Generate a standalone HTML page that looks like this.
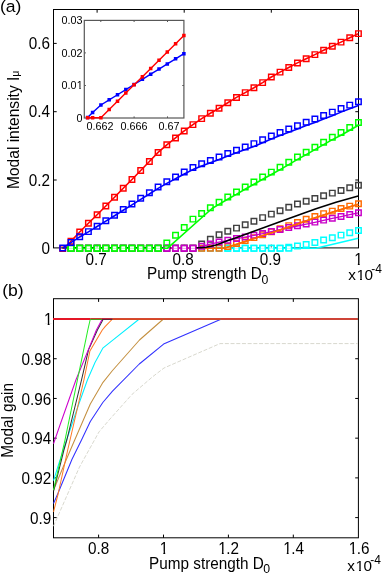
<!DOCTYPE html>
<html><head><meta charset="utf-8"><title>Modal intensity and modal gain</title>
<style>html,body{margin:0;padding:0;background:#fff;}body{width:382px;height:574px;overflow:hidden;}svg{display:block;will-change:transform;}text{font-family:"Liberation Sans", sans-serif;fill:#000;}</style></head><body>
<svg width="382" height="574" viewBox="0 0 382 574">
<rect x="0" y="0" width="382" height="574" fill="#fff"/>
<defs><filter id="soft" filterUnits="userSpaceOnUse" x="0" y="0" width="382" height="574"><feGaussianBlur stdDeviation="0.38"/></filter></defs>
<g filter="url(#soft)">
<g id="panel-a">
<rect x="53.5" y="9.5" width="305" height="238.4" fill="none" stroke="#000" stroke-width="1"/>
<line x1="97.1" y1="247.9" x2="97.1" y2="244.7" stroke="#000" stroke-width="1" />
<line x1="97.1" y1="9.5" x2="97.1" y2="12.7" stroke="#000" stroke-width="1" />
<line x1="184.2" y1="247.9" x2="184.2" y2="244.7" stroke="#000" stroke-width="1" />
<line x1="184.2" y1="9.5" x2="184.2" y2="12.7" stroke="#000" stroke-width="1" />
<line x1="271.3" y1="247.9" x2="271.3" y2="244.7" stroke="#000" stroke-width="1" />
<line x1="271.3" y1="9.5" x2="271.3" y2="12.7" stroke="#000" stroke-width="1" />
<line x1="53.5" y1="180" x2="56.7" y2="180" stroke="#000" stroke-width="1" />
<line x1="358.5" y1="180" x2="355.3" y2="180" stroke="#000" stroke-width="1" />
<line x1="53.5" y1="111.7" x2="56.7" y2="111.7" stroke="#000" stroke-width="1" />
<line x1="358.5" y1="111.7" x2="355.3" y2="111.7" stroke="#000" stroke-width="1" />
<line x1="53.5" y1="43.4" x2="56.7" y2="43.4" stroke="#000" stroke-width="1" />
<line x1="358.5" y1="43.4" x2="355.3" y2="43.4" stroke="#000" stroke-width="1" />
<g stroke-linecap="butt">
<polyline points="62.7,248.3 316,248.3 358.2,238.3" fill="none" stroke="#00ffff" stroke-width="1.6" stroke-linejoin="round" />
<path d="M68.24 245.55h5.5v5.5h-5.5zM76.95 245.55h5.5v5.5h-5.5zM85.66 245.55h5.5v5.5h-5.5zM94.37 245.55h5.5v5.5h-5.5zM103.08 245.55h5.5v5.5h-5.5zM111.79 245.55h5.5v5.5h-5.5zM120.5 245.55h5.5v5.5h-5.5zM129.21 245.55h5.5v5.5h-5.5zM137.93 245.55h5.5v5.5h-5.5zM146.64 245.55h5.5v5.5h-5.5zM155.35 245.55h5.5v5.5h-5.5zM164.06 245.55h5.5v5.5h-5.5zM172.77 245.55h5.5v5.5h-5.5zM181.48 245.55h5.5v5.5h-5.5zM190.19 245.55h5.5v5.5h-5.5zM198.9 245.55h5.5v5.5h-5.5zM207.61 245.55h5.5v5.5h-5.5zM216.32 245.55h5.5v5.5h-5.5zM225.03 245.55h5.5v5.5h-5.5zM233.75 245.55h5.5v5.5h-5.5zM242.46 245.55h5.5v5.5h-5.5zM251.17 245.55h5.5v5.5h-5.5zM259.88 245.55h5.5v5.5h-5.5zM268.59 245.55h5.5v5.5h-5.5zM277.3 245.55h5.5v5.5h-5.5zM286.01 244.45h5.5v5.5h-5.5zM294.72 243.15h5.5v5.5h-5.5zM303.43 241.65h5.5v5.5h-5.5zM312.14 239.75h5.5v5.5h-5.5zM320.86 237.25h5.5v5.5h-5.5zM329.57 234.95h5.5v5.5h-5.5zM338.28 232.35h5.5v5.5h-5.5zM346.99 230.05h5.5v5.5h-5.5zM355.7 227.65h5.5v5.5h-5.5z" fill="none" stroke="#00ffff" stroke-width="1.45"/>
<rect x="225.66" y="246.18" width="4.25" height="4.25" fill="#fff"/>
<line x1="225.66" y1="248.4" x2="229.91" y2="248.4" stroke="#b8ffff" stroke-width="1" />
<rect x="234.37" y="246.18" width="4.25" height="4.25" fill="#fff"/>
<line x1="234.37" y1="248.4" x2="238.62" y2="248.4" stroke="#b8ffff" stroke-width="1" />
<rect x="243.08" y="246.18" width="4.25" height="4.25" fill="#fff"/>
<line x1="243.08" y1="248.4" x2="247.33" y2="248.4" stroke="#b8ffff" stroke-width="1" />
<rect x="251.79" y="246.18" width="4.25" height="4.25" fill="#fff"/>
<line x1="251.79" y1="248.4" x2="256.04" y2="248.4" stroke="#b8ffff" stroke-width="1" />
<rect x="260.5" y="246.18" width="4.25" height="4.25" fill="#fff"/>
<line x1="260.5" y1="248.4" x2="264.75" y2="248.4" stroke="#b8ffff" stroke-width="1" />
<rect x="269.22" y="246.18" width="4.25" height="4.25" fill="#fff"/>
<line x1="269.22" y1="248.4" x2="273.47" y2="248.4" stroke="#b8ffff" stroke-width="1" />
<rect x="277.93" y="246.18" width="4.25" height="4.25" fill="#fff"/>
<line x1="277.93" y1="248.4" x2="282.18" y2="248.4" stroke="#b8ffff" stroke-width="1" />
<rect x="286.64" y="246.18" width="4.25" height="4.25" fill="#fff"/>
<line x1="286.64" y1="248.4" x2="290.89" y2="248.4" stroke="#b8ffff" stroke-width="1" />
<path d="M225.03 245.55h5.5v5.5h-5.5zM233.75 245.55h5.5v5.5h-5.5zM242.46 245.55h5.5v5.5h-5.5zM251.17 245.55h5.5v5.5h-5.5zM259.88 245.55h5.5v5.5h-5.5zM268.59 245.55h5.5v5.5h-5.5zM277.3 245.55h5.5v5.5h-5.5zM286.01 245.55h5.5v5.5h-5.5z" fill="none" stroke="#00ffff" stroke-width="1.45"/>
<polyline points="62.7,248.3 224,248.3 232,245.8 240,243.2 260,236.6 280,230 300,223 316,217.4 336,211.1 358.4,204.3" fill="none" stroke="#ff6a00" stroke-width="1.6" stroke-linejoin="round" />
<path d="M68.24 245.55h5.5v5.5h-5.5zM76.95 245.55h5.5v5.5h-5.5zM85.66 245.55h5.5v5.5h-5.5zM94.37 245.55h5.5v5.5h-5.5zM103.08 245.55h5.5v5.5h-5.5zM111.79 245.55h5.5v5.5h-5.5zM120.5 245.55h5.5v5.5h-5.5zM129.21 245.55h5.5v5.5h-5.5zM137.93 245.55h5.5v5.5h-5.5zM146.64 245.55h5.5v5.5h-5.5zM155.35 245.55h5.5v5.5h-5.5zM164.06 245.55h5.5v5.5h-5.5zM172.77 245.55h5.5v5.5h-5.5zM181.48 245.55h5.5v5.5h-5.5zM190.19 245.55h5.5v5.5h-5.5zM198.9 245.55h5.5v5.5h-5.5zM207.61 245.55h5.5v5.5h-5.5zM216.32 245.55h5.5v5.5h-5.5zM225.03 243.65h5.5v5.5h-5.5zM233.75 240.65h5.5v5.5h-5.5zM242.46 237.75h5.5v5.5h-5.5zM251.17 234.85h5.5v5.5h-5.5zM259.88 231.95h5.5v5.5h-5.5zM268.59 228.95h5.5v5.5h-5.5zM277.3 225.95h5.5v5.5h-5.5zM286.01 222.85h5.5v5.5h-5.5zM294.72 219.75h5.5v5.5h-5.5zM303.43 216.55h5.5v5.5h-5.5zM312.14 213.65h5.5v5.5h-5.5zM320.86 210.85h5.5v5.5h-5.5zM329.57 208.35h5.5v5.5h-5.5zM338.28 205.75h5.5v5.5h-5.5zM346.99 203.35h5.5v5.5h-5.5zM355.7 201.05h5.5v5.5h-5.5z" fill="none" stroke="#ff6a00" stroke-width="1.45"/>
<path d="M68.24 245.55h5.5v5.5h-5.5zM76.95 245.55h5.5v5.5h-5.5zM85.66 245.55h5.5v5.5h-5.5zM94.37 245.55h5.5v5.5h-5.5zM103.08 245.55h5.5v5.5h-5.5zM111.79 245.55h5.5v5.5h-5.5zM120.5 245.55h5.5v5.5h-5.5zM129.21 245.55h5.5v5.5h-5.5zM137.93 245.55h5.5v5.5h-5.5zM146.64 245.55h5.5v5.5h-5.5zM155.35 245.55h5.5v5.5h-5.5zM164.06 245.55h5.5v5.5h-5.5zM172.77 245.55h5.5v5.5h-5.5zM181.48 245.55h5.5v5.5h-5.5zM190.19 245.55h5.5v5.5h-5.5zM198.9 241.15h5.5v5.5h-5.5zM207.61 236.45h5.5v5.5h-5.5zM216.32 232.05h5.5v5.5h-5.5zM225.03 228.55h5.5v5.5h-5.5zM233.75 225.35h5.5v5.5h-5.5zM242.46 222.05h5.5v5.5h-5.5zM251.17 218.45h5.5v5.5h-5.5zM259.88 214.85h5.5v5.5h-5.5zM268.59 211.35h5.5v5.5h-5.5zM277.3 207.95h5.5v5.5h-5.5zM286.01 204.45h5.5v5.5h-5.5zM294.72 201.25h5.5v5.5h-5.5zM303.43 198.45h5.5v5.5h-5.5zM312.14 195.75h5.5v5.5h-5.5zM320.86 193.05h5.5v5.5h-5.5zM329.57 190.35h5.5v5.5h-5.5zM338.28 187.65h5.5v5.5h-5.5zM346.99 184.95h5.5v5.5h-5.5zM355.7 182.45h5.5v5.5h-5.5z" fill="none" stroke="#404040" stroke-width="1.45"/>
<polyline points="62.7,247.9 171,247.9" fill="none" stroke="#000000" stroke-width="1.6" stroke-linejoin="round" />
<polyline points="171,248.1 198.5,248.1 201.65,246.5 210.36,244.2 219.07,242.1 227.78,240.4 236.5,238.7 245.21,237.1 253.92,235.4 262.63,233.7 271.34,231.7 280.05,229.6 288.76,227.7 297.47,226 306.18,224.2 314.89,222.3 323.61,220.3 332.32,218.4 341.03,216.6 349.74,214.7 358.45,212.9" fill="none" stroke="#c800c8" stroke-width="1.3" stroke-linejoin="round" />
<path d="M68.24 245.55h5.5v5.5h-5.5zM76.95 245.55h5.5v5.5h-5.5zM85.66 245.55h5.5v5.5h-5.5zM94.37 245.55h5.5v5.5h-5.5zM103.08 245.55h5.5v5.5h-5.5zM111.79 245.55h5.5v5.5h-5.5zM120.5 245.55h5.5v5.5h-5.5zM129.21 245.55h5.5v5.5h-5.5zM137.93 245.55h5.5v5.5h-5.5zM146.64 245.55h5.5v5.5h-5.5zM155.35 245.55h5.5v5.5h-5.5zM164.06 245.55h5.5v5.5h-5.5zM172.77 245.55h5.5v5.5h-5.5zM181.48 245.55h5.5v5.5h-5.5zM190.19 245.55h5.5v5.5h-5.5zM198.9 243.55h5.5v5.5h-5.5zM207.61 241.25h5.5v5.5h-5.5zM216.32 239.15h5.5v5.5h-5.5zM225.03 237.45h5.5v5.5h-5.5zM233.75 235.75h5.5v5.5h-5.5zM242.46 234.15h5.5v5.5h-5.5zM251.17 232.45h5.5v5.5h-5.5zM259.88 230.75h5.5v5.5h-5.5zM268.59 228.75h5.5v5.5h-5.5zM277.3 226.65h5.5v5.5h-5.5zM286.01 224.75h5.5v5.5h-5.5zM294.72 223.05h5.5v5.5h-5.5zM303.43 221.25h5.5v5.5h-5.5zM312.14 219.35h5.5v5.5h-5.5zM320.86 217.35h5.5v5.5h-5.5zM329.57 215.45h5.5v5.5h-5.5zM338.28 213.65h5.5v5.5h-5.5zM346.99 211.75h5.5v5.5h-5.5zM355.7 209.95h5.5v5.5h-5.5z" fill="none" stroke="#c800c8" stroke-width="1.45"/>
<polyline points="224,248.3 232,245.8 240,243.2 260,236.6 280,230 300,223 316,217.4 336,211.1 358.4,204.3" fill="none" stroke="#ff6a00" stroke-width="1.6" stroke-linejoin="round" />
<polyline points="190,247.8 201,247.7 206,247.2 211,246.3 216,244.9 221.4,242.9 230,239.8 234,238.4 258,229.8 282,221 300,214.5 316,208.8 336,202.3 358.2,195.9" fill="none" stroke="#000000" stroke-width="1.6" stroke-linejoin="round" />
<rect x="164.68" y="246.18" width="4.25" height="4.25" fill="#fff"/>
<line x1="164.68" y1="248.4" x2="168.93" y2="248.4" stroke="#eaa8ea" stroke-width="1" />
<rect x="173.39" y="246.18" width="4.25" height="4.25" fill="#fff"/>
<line x1="173.39" y1="248.4" x2="177.64" y2="248.4" stroke="#eaa8ea" stroke-width="1" />
<rect x="182.11" y="246.18" width="4.25" height="4.25" fill="#fff"/>
<line x1="182.11" y1="248.4" x2="186.36" y2="248.4" stroke="#eaa8ea" stroke-width="1" />
<rect x="190.82" y="246.18" width="4.25" height="4.25" fill="#fff"/>
<line x1="190.82" y1="248.4" x2="195.07" y2="248.4" stroke="#eaa8ea" stroke-width="1" />
<path d="M164.06 245.55h5.5v5.5h-5.5zM172.77 245.55h5.5v5.5h-5.5zM181.48 245.55h5.5v5.5h-5.5zM190.19 245.55h5.5v5.5h-5.5z" fill="none" stroke="#c800c8" stroke-width="1.45"/>
<polyline points="62.7,248.3 167.3,248.3 212,208.5 218.9,204.4 227.6,199.2 236.3,194.4 245,189.3 253.92,184.3 262.63,179.3 271.34,174.5 280.05,169.6 288.76,164.6 297.47,159.4 306.18,154.6 314.89,149.6 323.61,144.6 332.32,139.6 341.03,135.2 349.74,130.3 358.45,125.3" fill="none" stroke="#00ff00" stroke-width="1.6" stroke-linejoin="round" />
<path d="M68.24 245.55h5.5v5.5h-5.5zM76.95 245.55h5.5v5.5h-5.5zM85.66 245.55h5.5v5.5h-5.5zM94.37 245.55h5.5v5.5h-5.5zM103.08 245.55h5.5v5.5h-5.5zM111.79 245.55h5.5v5.5h-5.5zM120.5 245.55h5.5v5.5h-5.5zM129.21 245.55h5.5v5.5h-5.5zM137.93 245.55h5.5v5.5h-5.5zM146.64 245.55h5.5v5.5h-5.5zM155.35 245.55h5.5v5.5h-5.5zM164.06 240.15h5.5v5.5h-5.5zM172.77 232.45h5.5v5.5h-5.5zM181.48 224.65h5.5v5.5h-5.5zM190.19 216.35h5.5v5.5h-5.5zM198.9 210.65h5.5v5.5h-5.5zM207.61 205.05h5.5v5.5h-5.5zM216.32 199.45h5.5v5.5h-5.5zM225.03 194.15h5.5v5.5h-5.5zM233.75 189.25h5.5v5.5h-5.5zM242.46 184.25h5.5v5.5h-5.5zM251.17 179.15h5.5v5.5h-5.5zM259.88 174.15h5.5v5.5h-5.5zM268.59 169.35h5.5v5.5h-5.5zM277.3 164.45h5.5v5.5h-5.5zM286.01 159.45h5.5v5.5h-5.5zM294.72 154.25h5.5v5.5h-5.5zM303.43 149.45h5.5v5.5h-5.5zM312.14 144.45h5.5v5.5h-5.5zM320.86 139.45h5.5v5.5h-5.5zM329.57 134.45h5.5v5.5h-5.5zM338.28 129.65h5.5v5.5h-5.5zM346.99 124.75h5.5v5.5h-5.5zM355.7 119.75h5.5v5.5h-5.5z" fill="none" stroke="#00ff00" stroke-width="1.45"/>
<rect x="68.86" y="246.18" width="4.25" height="4.25" fill="#fff"/>
<line x1="68.86" y1="248.4" x2="73.11" y2="248.4" stroke="#b8ffb8" stroke-width="1" />
<rect x="77.57" y="246.18" width="4.25" height="4.25" fill="#fff"/>
<line x1="77.57" y1="248.4" x2="81.82" y2="248.4" stroke="#b8ffb8" stroke-width="1" />
<rect x="86.28" y="246.18" width="4.25" height="4.25" fill="#fff"/>
<line x1="86.28" y1="248.4" x2="90.53" y2="248.4" stroke="#b8ffb8" stroke-width="1" />
<rect x="95" y="246.18" width="4.25" height="4.25" fill="#fff"/>
<line x1="95" y1="248.4" x2="99.25" y2="248.4" stroke="#b8ffb8" stroke-width="1" />
<rect x="103.71" y="246.18" width="4.25" height="4.25" fill="#fff"/>
<line x1="103.71" y1="248.4" x2="107.96" y2="248.4" stroke="#b8ffb8" stroke-width="1" />
<rect x="112.42" y="246.18" width="4.25" height="4.25" fill="#fff"/>
<line x1="112.42" y1="248.4" x2="116.67" y2="248.4" stroke="#b8ffb8" stroke-width="1" />
<rect x="121.13" y="246.18" width="4.25" height="4.25" fill="#fff"/>
<line x1="121.13" y1="248.4" x2="125.38" y2="248.4" stroke="#b8ffb8" stroke-width="1" />
<rect x="129.84" y="246.18" width="4.25" height="4.25" fill="#fff"/>
<line x1="129.84" y1="248.4" x2="134.09" y2="248.4" stroke="#b8ffb8" stroke-width="1" />
<rect x="138.55" y="246.18" width="4.25" height="4.25" fill="#fff"/>
<line x1="138.55" y1="248.4" x2="142.8" y2="248.4" stroke="#b8ffb8" stroke-width="1" />
<rect x="147.26" y="246.18" width="4.25" height="4.25" fill="#fff"/>
<line x1="147.26" y1="248.4" x2="151.51" y2="248.4" stroke="#b8ffb8" stroke-width="1" />
<rect x="155.97" y="246.18" width="4.25" height="4.25" fill="#fff"/>
<line x1="155.97" y1="248.4" x2="160.22" y2="248.4" stroke="#b8ffb8" stroke-width="1" />
<path d="M68.24 245.55h5.5v5.5h-5.5zM76.95 245.55h5.5v5.5h-5.5zM85.66 245.55h5.5v5.5h-5.5zM94.37 245.55h5.5v5.5h-5.5zM103.08 245.55h5.5v5.5h-5.5zM111.79 245.55h5.5v5.5h-5.5zM120.5 245.55h5.5v5.5h-5.5zM129.21 245.55h5.5v5.5h-5.5zM137.93 245.55h5.5v5.5h-5.5zM146.64 245.55h5.5v5.5h-5.5zM155.35 245.55h5.5v5.5h-5.5z" fill="none" stroke="#00ff00" stroke-width="1.45"/>
<polyline points="62.7,248.3 64.02,248.3 70.99,241.3 79.7,232 88.41,223.2 97.12,214.7 105.83,206 114.54,197.2 123.25,188.3 131.96,179.5 140.68,170.5 149.39,161.5 158.1,152.4 166.81,144.8 175.52,137.9 184.23,130.9 192.94,124.6 201.65,118.6 210.36,113.3 219.07,108.2 227.78,102.7 236.5,97.4 245.21,92.6 253.92,87.8 262.63,82.6 271.34,77 280.05,72.1 288.76,67.5 297.47,62.9 306.18,58.7 314.89,54.6 323.61,50.3 332.32,46.3 341.03,42.1 349.74,37.8 358.45,33.6" fill="none" stroke="#ff0000" stroke-width="1.6" stroke-linejoin="round" />
<path d="M59.95 245.85h5.5v5.5h-5.5zM68.24 238.55h5.5v5.5h-5.5zM76.95 229.25h5.5v5.5h-5.5zM85.66 220.45h5.5v5.5h-5.5zM94.37 211.95h5.5v5.5h-5.5zM103.08 203.25h5.5v5.5h-5.5zM111.79 194.45h5.5v5.5h-5.5zM120.5 185.55h5.5v5.5h-5.5zM129.21 176.75h5.5v5.5h-5.5zM137.93 167.75h5.5v5.5h-5.5zM146.64 158.75h5.5v5.5h-5.5zM155.35 149.65h5.5v5.5h-5.5zM164.06 142.05h5.5v5.5h-5.5zM172.77 135.15h5.5v5.5h-5.5zM181.48 128.15h5.5v5.5h-5.5zM190.19 121.85h5.5v5.5h-5.5zM198.9 115.85h5.5v5.5h-5.5zM207.61 110.55h5.5v5.5h-5.5zM216.32 105.45h5.5v5.5h-5.5zM225.03 99.95h5.5v5.5h-5.5zM233.75 94.65h5.5v5.5h-5.5zM242.46 89.85h5.5v5.5h-5.5zM251.17 85.05h5.5v5.5h-5.5zM259.88 79.85h5.5v5.5h-5.5zM268.59 74.25h5.5v5.5h-5.5zM277.3 69.35h5.5v5.5h-5.5zM286.01 64.75h5.5v5.5h-5.5zM294.72 60.15h5.5v5.5h-5.5zM303.43 55.95h5.5v5.5h-5.5zM312.14 51.85h5.5v5.5h-5.5zM320.86 47.55h5.5v5.5h-5.5zM329.57 43.55h5.5v5.5h-5.5zM338.28 39.35h5.5v5.5h-5.5zM346.99 35.05h5.5v5.5h-5.5zM355.7 30.85h5.5v5.5h-5.5z" fill="none" stroke="#ff0000" stroke-width="1.45"/>
<polyline points="62.7,248 70.99,242.57 79.7,236.95 88.41,231.82 97.12,226.5 105.83,221.14 114.54,215.78 123.25,210.22 131.96,204.86 140.68,199.3 149.39,194 158.1,188.4 166.81,183.4 175.52,178.8 184.23,174 192.94,169.6 201.65,166 210.36,162.8 219.07,159.4 227.78,156 236.5,152.8 245.21,149.6 253.92,146.4 262.63,142.7 271.34,138.9 280.05,135.6 288.76,132.2 297.47,129 306.18,125.6 314.89,122.4 323.61,118.94 332.32,115.68 341.03,112.12 349.74,108.76 358.45,105.5" fill="none" stroke="#0000ff" stroke-width="1.6" stroke-linejoin="round" />
<path d="M59.95 245.25h5.5v5.5h-5.5zM68.24 239.75h5.5v5.5h-5.5zM76.95 234.05h5.5v5.5h-5.5zM85.66 228.85h5.5v5.5h-5.5zM94.37 223.45h5.5v5.5h-5.5zM103.08 217.95h5.5v5.5h-5.5zM111.79 212.45h5.5v5.5h-5.5zM120.5 206.75h5.5v5.5h-5.5zM129.21 201.25h5.5v5.5h-5.5zM137.93 195.55h5.5v5.5h-5.5zM146.64 190.05h5.5v5.5h-5.5zM155.35 184.25h5.5v5.5h-5.5zM164.06 179.05h5.5v5.5h-5.5zM172.77 174.25h5.5v5.5h-5.5zM181.48 169.25h5.5v5.5h-5.5zM190.19 164.75h5.5v5.5h-5.5zM198.9 161.05h5.5v5.5h-5.5zM207.61 157.75h5.5v5.5h-5.5zM216.32 154.25h5.5v5.5h-5.5zM225.03 150.75h5.5v5.5h-5.5zM233.75 147.45h5.5v5.5h-5.5zM242.46 144.15h5.5v5.5h-5.5zM251.17 140.85h5.5v5.5h-5.5zM259.88 137.05h5.5v5.5h-5.5zM268.59 133.15h5.5v5.5h-5.5zM277.3 129.75h5.5v5.5h-5.5zM286.01 126.25h5.5v5.5h-5.5zM294.72 122.95h5.5v5.5h-5.5zM303.43 119.45h5.5v5.5h-5.5zM312.14 116.15h5.5v5.5h-5.5zM320.86 112.65h5.5v5.5h-5.5zM329.57 109.35h5.5v5.5h-5.5zM338.28 105.75h5.5v5.5h-5.5zM346.99 102.35h5.5v5.5h-5.5zM355.7 99.05h5.5v5.5h-5.5z" fill="none" stroke="#0000ff" stroke-width="1.45"/>
</g>
<line x1="97.1" y1="246.3" x2="97.1" y2="247.5" stroke="#3a5a3a" stroke-width="0.9" />
<line x1="271.3" y1="246.3" x2="271.3" y2="247.5" stroke="#2a5a5a" stroke-width="0.9" />
<text transform="translate(49.9 253.9) scale(1 1.04)" text-anchor="end" style="font-size:15.3px;" >0</text>
<text transform="translate(49.9 185.7) scale(1 1.04)" text-anchor="end" style="font-size:15.3px;" >0.2</text>
<text transform="translate(49.9 117.4) scale(1 1.04)" text-anchor="end" style="font-size:15.3px;" >0.4</text>
<text transform="translate(49.9 49.1) scale(1 1.04)" text-anchor="end" style="font-size:15.3px;" >0.6</text>
<text transform="translate(96.1 264.9) scale(1 1.04)" text-anchor="middle" style="font-size:15.3px;" >0.7</text>
<text transform="translate(183.2 264.9) scale(1 1.04)" text-anchor="middle" style="font-size:15.3px;" >0.8</text>
<text transform="translate(270.3 264.9) scale(1 1.04)" text-anchor="middle" style="font-size:15.3px;" >0.9</text>
<clipPath id="one0"><rect x="-2" y="-15.3" width="17.3" height="13.46"/><rect x="3.6" y="-15.3" width="1.85" height="17.3"/></clipPath>
<g transform="translate(354.25 264.9) scale(1 1.04)" clip-path="url(#one0)"><text style="font-size:15.3px;">1</text></g>
<text transform="translate(348.3 279.5) scale(1 0.93)" text-anchor="start" style="font-size:15.3px;" >x</text>
<g transform="translate(356.45 279.5) scale(1 0.93)" clip-path="url(#one0)"><text style="font-size:15.3px;">1</text></g>
<text transform="translate(364.46 279.5) scale(1 0.93)" text-anchor="start" style="font-size:15.3px;" >0</text>
<text transform="translate(371.3 272.6) scale(1 1.04)" text-anchor="start" style="font-size:12px;" >-4</text>
<text transform="translate(147 279.4) scale(1 1.04)" text-anchor="start" style="font-size:15.3px;" >Pump strength D</text>
<text transform="translate(261.6 284.2) scale(1 1.04)" text-anchor="start" style="font-size:12.3px;" >0</text>
<g transform="translate(18.6,189.0) rotate(-90)">
<text transform="translate(0 0) scale(1 1.04)" text-anchor="start" style="font-size:15.55px;" >Modal intensity I</text>
<text transform="translate(112.2 -0.1) scale(1 1.04)" text-anchor="start" style="font-size:10.5px;" >&#956;</text>
</g>
<text transform="translate(-0.1 12.3) scale(1 0.98)" text-anchor="start" style="font-size:17.6px;" >(a)</text>
<rect x="84.3" y="20.4" width="99.6" height="97.6" fill="#fff" stroke="#585858" stroke-width="1.2"/>
<line x1="100.8" y1="118" x2="100.8" y2="116.4" stroke="#555" stroke-width="1" />
<line x1="100.8" y1="20.4" x2="100.8" y2="22" stroke="#555" stroke-width="1" />
<line x1="134.1" y1="118" x2="134.1" y2="116.4" stroke="#555" stroke-width="1" />
<line x1="134.1" y1="20.4" x2="134.1" y2="22" stroke="#555" stroke-width="1" />
<line x1="167.5" y1="118" x2="167.5" y2="116.4" stroke="#555" stroke-width="1" />
<line x1="167.5" y1="20.4" x2="167.5" y2="22" stroke="#555" stroke-width="1" />
<line x1="84.3" y1="85.5" x2="85.9" y2="85.5" stroke="#555" stroke-width="1" />
<line x1="183.9" y1="85.5" x2="182.3" y2="85.5" stroke="#555" stroke-width="1" />
<line x1="84.3" y1="52.9" x2="85.9" y2="52.9" stroke="#555" stroke-width="1" />
<line x1="183.9" y1="52.9" x2="182.3" y2="52.9" stroke="#555" stroke-width="1" />
<polyline points="87.62,117.4 92.6,112.6 100.9,105 109.2,99.87 117.5,94.74 125.8,89.61 134.1,84.48 142.4,79.35 150.7,74.22 159,69.09 167.3,63.96 175.6,58.83 183.9,53.7" fill="none" stroke="#0000ff" stroke-width="1.4" stroke-linejoin="round" />
<path d="M85.87 115.65h3.5v3.5h-3.5zM90.85 110.85h3.5v3.5h-3.5zM99.15 103.25h3.5v3.5h-3.5zM107.45 98.12h3.5v3.5h-3.5zM115.75 92.99h3.5v3.5h-3.5zM124.05 87.86h3.5v3.5h-3.5zM132.35 82.73h3.5v3.5h-3.5zM140.65 77.6h3.5v3.5h-3.5zM148.95 72.47h3.5v3.5h-3.5zM157.25 67.34h3.5v3.5h-3.5zM165.55 62.21h3.5v3.5h-3.5zM173.85 57.08h3.5v3.5h-3.5zM182.15 51.95h3.5v3.5h-3.5z" fill="#0000ff" stroke="none"/>
<polyline points="87.62,117.7 92.6,117.7 100.9,117.7 109.2,109.49 117.5,101.28 125.8,93.07 134.1,84.86 142.4,76.65 150.7,68.44 159,60.23 167.3,52.02 175.6,43.81 183.9,35.6" fill="none" stroke="#ff0000" stroke-width="1.4" stroke-linejoin="round" />
<path d="M85.87 115.95h3.5v3.5h-3.5zM90.85 115.95h3.5v3.5h-3.5zM99.15 115.95h3.5v3.5h-3.5zM107.45 107.74h3.5v3.5h-3.5zM115.75 99.53h3.5v3.5h-3.5zM124.05 91.32h3.5v3.5h-3.5zM132.35 83.11h3.5v3.5h-3.5zM140.65 74.9h3.5v3.5h-3.5zM148.95 66.69h3.5v3.5h-3.5zM157.25 58.48h3.5v3.5h-3.5zM165.55 50.27h3.5v3.5h-3.5zM173.85 42.06h3.5v3.5h-3.5zM182.15 33.85h3.5v3.5h-3.5z" fill="#ff0000" stroke="none"/>
<text transform="translate(82.5 121.9) scale(1 1.04)" text-anchor="end" style="font-size:10.8px;" >0</text>
<clipPath id="one1"><rect x="-2" y="-10.8" width="12.8" height="9.29"/><rect x="2.47" y="-10.8" width="1.45" height="12.8"/></clipPath>
<text transform="translate(61.48 89.4) scale(1 1.04)" text-anchor="start" style="font-size:10.8px;" >0.0</text>
<g transform="translate(76.85 89.4) scale(1 1.04)" clip-path="url(#one1)"><text style="font-size:10.8px;">1</text></g>
<text transform="translate(82.5 56.8) scale(1 1.04)" text-anchor="end" style="font-size:10.8px;" >0.02</text>
<text transform="translate(82.5 24.4) scale(1 1.04)" text-anchor="end" style="font-size:10.8px;" >0.03</text>
<text transform="translate(99.9 130.2) scale(1 1.04)" text-anchor="middle" style="font-size:10.8px;" >0.662</text>
<text transform="translate(134.1 130.2) scale(1 1.04)" text-anchor="middle" style="font-size:10.8px;" >0.666</text>
<text transform="translate(168.9 130.2) scale(1 1.04)" text-anchor="middle" style="font-size:10.8px;" >0.67</text>
</g>
<g id="panel-b">
<rect x="53.5" y="298.7" width="304.9" height="239.1" fill="none" stroke="#000" stroke-width="1"/>
<line x1="98.6" y1="537.8" x2="98.6" y2="534.6" stroke="#000" stroke-width="1" />
<line x1="98.6" y1="298.7" x2="98.6" y2="301.9" stroke="#000" stroke-width="1" />
<line x1="163.5" y1="537.8" x2="163.5" y2="534.6" stroke="#000" stroke-width="1" />
<line x1="163.5" y1="298.7" x2="163.5" y2="301.9" stroke="#000" stroke-width="1" />
<line x1="228.4" y1="537.8" x2="228.4" y2="534.6" stroke="#000" stroke-width="1" />
<line x1="228.4" y1="298.7" x2="228.4" y2="301.9" stroke="#000" stroke-width="1" />
<line x1="293.3" y1="537.8" x2="293.3" y2="534.6" stroke="#000" stroke-width="1" />
<line x1="293.3" y1="298.7" x2="293.3" y2="301.9" stroke="#000" stroke-width="1" />
<line x1="53.5" y1="319" x2="56.7" y2="319" stroke="#000" stroke-width="1" />
<line x1="358.4" y1="319" x2="355.2" y2="319" stroke="#000" stroke-width="1" />
<line x1="53.5" y1="358.72" x2="56.7" y2="358.72" stroke="#000" stroke-width="1" />
<line x1="358.4" y1="358.72" x2="355.2" y2="358.72" stroke="#000" stroke-width="1" />
<line x1="53.5" y1="398.44" x2="56.7" y2="398.44" stroke="#000" stroke-width="1" />
<line x1="358.4" y1="398.44" x2="355.2" y2="398.44" stroke="#000" stroke-width="1" />
<line x1="53.5" y1="438.16" x2="56.7" y2="438.16" stroke="#000" stroke-width="1" />
<line x1="358.4" y1="438.16" x2="355.2" y2="438.16" stroke="#000" stroke-width="1" />
<line x1="53.5" y1="477.88" x2="56.7" y2="477.88" stroke="#000" stroke-width="1" />
<line x1="358.4" y1="477.88" x2="355.2" y2="477.88" stroke="#000" stroke-width="1" />
<line x1="53.5" y1="517.6" x2="56.7" y2="517.6" stroke="#000" stroke-width="1" />
<line x1="358.4" y1="517.6" x2="355.2" y2="517.6" stroke="#000" stroke-width="1" />
<clipPath id="cb"><rect x="53" y="298.7" width="304.8" height="239.1"/></clipPath>
<g clip-path="url(#cb)">
<polyline points="53.5,526.2 69.4,490 79.5,467 99,431.9 110,419 131.9,394.5 152.8,376.6 164,368 220,343.6 358.5,343.6" fill="none" stroke="#d8d8ce" stroke-width="1" stroke-linejoin="round" stroke-dasharray="4 1.7"/>
<polyline points="53.5,503.5 57.7,494 72,459.2 81.5,440 90.3,421.5 102.8,402.5 112.5,391.2 139.3,364 163.6,344.1 221.5,319 358.5,319" fill="none" stroke="#3030ff" stroke-width="1.05" stroke-linejoin="round" />
<polyline points="53.5,490.2 64.2,464.5 70.4,450 74.7,440 87.7,410 90.3,404 103,382.3 112.5,370.5 139.5,340 163.4,319 358.5,319" fill="none" stroke="#c49040" stroke-width="1.05" stroke-linejoin="round" />
<polyline points="53.5,480.7 58.5,464.6 66.6,440 78.3,405.5 87.4,380 95,362.5 102.8,348.2 112.5,340.3 139.3,319 358.5,319" fill="none" stroke="#00f0ff" stroke-width="1.05" stroke-linejoin="round" />
<polyline points="53.5,511.8 58.1,494 67.7,450 83.9,380 89.9,351 102.3,330 105.3,326.4 112.5,319 358.5,319" fill="none" stroke="#ff7a26" stroke-width="1.05" stroke-linejoin="round" />
<polyline points="53.5,491.4 63.9,450 66.8,440 81.5,380 88.5,349.9 97.4,330 103.3,319 358.5,319" fill="none" stroke="#303030" stroke-width="1.05" stroke-linejoin="round" />
<polyline points="53.5,443.75 60,425 75.9,380 88.5,349.4 96.4,330 102.3,319 358.5,319" fill="none" stroke="#cc00cc" stroke-width="1.05" stroke-linejoin="round" />
<polyline points="53.5,490 62.7,450 65,440 77.4,380 82.4,356 87.8,330 90.3,319 358.5,319" fill="none" stroke="#22ee22" stroke-width="1.05" stroke-linejoin="round" />
<line x1="53" y1="318.5" x2="90.3" y2="318.5" stroke="#e41228" stroke-width="1" />
<line x1="53" y1="319.5" x2="90.3" y2="319.5" stroke="#e41228" stroke-width="1" />
<line x1="90.3" y1="318.5" x2="101.9" y2="318.5" stroke="#cc3a30" stroke-width="1" />
<line x1="90.3" y1="319.5" x2="101.9" y2="319.5" stroke="#4a9a1c" stroke-width="1" />
<line x1="101.9" y1="318.5" x2="112.6" y2="318.5" stroke="#c42c3c" stroke-width="1" />
<line x1="101.9" y1="319.5" x2="112.6" y2="319.5" stroke="#5a2838" stroke-width="1" />
<line x1="112.6" y1="318.5" x2="163.4" y2="318.5" stroke="#d84a30" stroke-width="1" />
<line x1="112.6" y1="319.5" x2="163.4" y2="319.5" stroke="#d24a20" stroke-width="1" />
<line x1="163.4" y1="318.5" x2="220.5" y2="318.5" stroke="#d44a32" stroke-width="1" />
<line x1="163.4" y1="319.5" x2="220.5" y2="319.5" stroke="#ce4a2a" stroke-width="1" />
<line x1="220.5" y1="318.5" x2="358.5" y2="318.5" stroke="#d04238" stroke-width="1" />
<line x1="220.5" y1="319.5" x2="358.5" y2="319.5" stroke="#cb4638" stroke-width="1" />
</g>
<g transform="translate(44.1 325.1) scale(1 1.04)" clip-path="url(#one0)"><text style="font-size:15.3px;">1</text></g>
<text transform="translate(51.2 364.82) scale(1 1.04)" text-anchor="end" style="font-size:15.3px;" >0.98</text>
<text transform="translate(51.2 404.54) scale(1 1.04)" text-anchor="end" style="font-size:15.3px;" >0.96</text>
<text transform="translate(51.2 444.26) scale(1 1.04)" text-anchor="end" style="font-size:15.3px;" >0.94</text>
<text transform="translate(51.2 483.98) scale(1 1.04)" text-anchor="end" style="font-size:15.3px;" >0.92</text>
<text transform="translate(51.2 523.7) scale(1 1.04)" text-anchor="end" style="font-size:15.3px;" >0.9</text>
<text transform="translate(98.6 553.5) scale(1 1.04)" text-anchor="middle" style="font-size:15.3px;" >0.8</text>
<g transform="translate(159.75 553.5) scale(1 1.04)" clip-path="url(#one0)"><text style="font-size:15.3px;">1</text></g>
<g transform="translate(218.27 553.5) scale(1 1.04)" clip-path="url(#one0)"><text style="font-size:15.3px;">1</text></g>
<text transform="translate(226.27 553.5) scale(1 1.04)" text-anchor="start" style="font-size:15.3px;" >.2</text>
<g transform="translate(283.17 553.5) scale(1 1.04)" clip-path="url(#one0)"><text style="font-size:15.3px;">1</text></g>
<text transform="translate(291.17 553.5) scale(1 1.04)" text-anchor="start" style="font-size:15.3px;" >.4</text>
<g transform="translate(348.87 553.5) scale(1 1.04)" clip-path="url(#one0)"><text style="font-size:15.3px;">1</text></g>
<text transform="translate(356.87 553.5) scale(1 1.04)" text-anchor="start" style="font-size:15.3px;" >.6</text>
<text transform="translate(347.3 571) scale(1 0.93)" text-anchor="start" style="font-size:15.3px;" >x</text>
<g transform="translate(355.45 571) scale(1 0.93)" clip-path="url(#one0)"><text style="font-size:15.3px;">1</text></g>
<text transform="translate(363.46 571) scale(1 0.93)" text-anchor="start" style="font-size:15.3px;" >0</text>
<text transform="translate(370.3 564.4) scale(1 1.04)" text-anchor="start" style="font-size:12px;" >-4</text>
<text transform="translate(149.1 569) scale(1 1.04)" text-anchor="start" style="font-size:15.3px;" >Pump strength D</text>
<text transform="translate(263.2 573.4) scale(1 1.04)" text-anchor="start" style="font-size:12.3px;" >0</text>
<g transform="translate(13.2,457.8) rotate(-90)">
<text transform="translate(0 0) scale(1 1.04)" text-anchor="start" style="font-size:15.3px;" >Modal gain</text>
</g>
<text transform="translate(2.2 295.6) scale(1 0.98)" text-anchor="start" style="font-size:17.6px;" >(b)</text>
</g>
</g>
</svg></body></html>
